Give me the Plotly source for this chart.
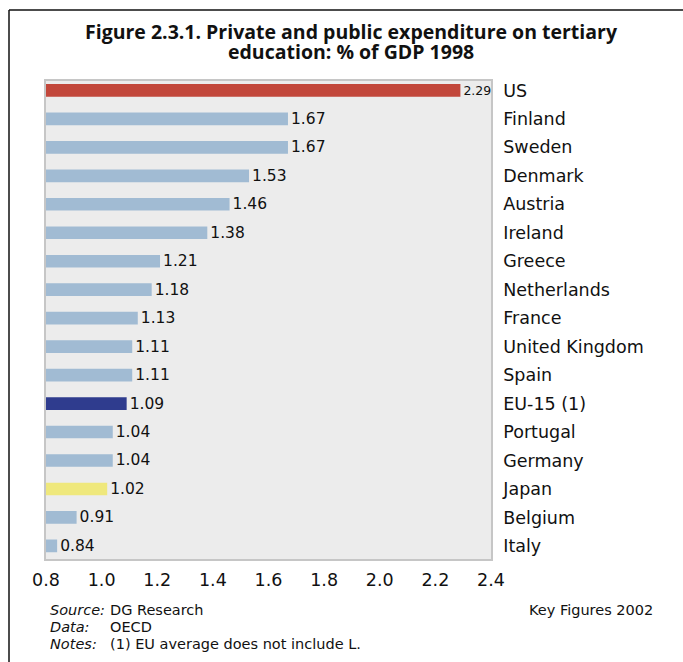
import plotly.graph_objects as go

countries = ["US", "Finland", "Sweden", "Denmark", "Austria", "Ireland", "Greece",
             "Netherlands", "France", "United Kingdom", "Spain", "EU-15 (1)",
             "Portugal", "Germany", "Japan", "Belgium", "Italy"]
values = [2.29, 1.67, 1.67, 1.53, 1.46, 1.38, 1.21, 1.18, 1.13, 1.11, 1.11, 1.09,
          1.04, 1.04, 1.02, 0.91, 0.84]
special_colors = {"US": "#c2473b", "EU-15 (1)": "#2f3c8e", "Japan": "#efe87c"}
base_color = "#a1bbd3"
x_ticks = [0.8, 1.0, 1.2, 1.4, 1.6, 1.8, 2.0, 2.2, 2.4]
title_lines = ["Figure 2.3.1. Private and public expenditure on tertiary",
               "education: % of GDP 1998"]

colors = [special_colors.get(c, base_color) for c in countries]
label_sizes = [12.5 if c == "US" else 15.5 for c in countries]

W, H = 683, 662
L, R, T, B = 46, 491, 81, 559
FONT = "'DejaVu Sans', sans-serif"
TFONT = "'Open Sans', sans-serif"

fig = go.Figure(go.Bar(
    x=values, y=countries, orientation="h",
    marker=dict(color=colors, line=dict(width=0)),
    width=0.445,
    text=[f"{v:.2f}" for v in values],
    textposition="outside",
    constraintext="none",
    textfont=dict(size=label_sizes, color="#111", family=FONT),
    cliponaxis=False,
))

def px(x):
    return (x - L) / (R - L)

def py(y):
    return (B - y) / (B - T)

annotations = [
    dict(x=px(48), y=py(610), text="<i>Source:</i>", xanchor="left"),
    dict(x=px(108), y=py(610), text="DG Research", xanchor="left"),
    dict(x=px(48), y=py(627), text="<i>Data:</i>", xanchor="left"),
    dict(x=px(108), y=py(627), text="OECD", xanchor="left"),
    dict(x=px(48), y=py(644), text="<i>Notes:</i>", xanchor="left"),
    dict(x=px(108), y=py(644), text="(1) EU average does not include L.", xanchor="left"),
    dict(x=px(655), y=py(610), text="Key Figures 2002", xanchor="right"),
]
for a in annotations:
    a.update(xref="paper", yref="paper", yanchor="middle", showarrow=False,
             font=dict(size=14.5, color="#111", family=FONT))

for line, yc in zip(title_lines, [32, 51.5]):
    annotations.append(dict(
        x=px(351), y=py(yc), xref="paper", yref="paper", showarrow=False,
        xanchor="center", yanchor="middle",
        text=f"<b>{line}</b>",
        font=dict(size=19.5, color="#111", family=TFONT),
    ))

shapes = [
    dict(type="line", xref="paper", yref="paper", x0=px(9), x1=px(683), y0=py(10), y1=py(10),
         line=dict(color="#111", width=1.5)),
    dict(type="line", xref="paper", yref="paper", x0=px(9), x1=px(9), y0=py(10), y1=py(662),
         line=dict(color="#111", width=1.5)),
]

fig.update_layout(
    width=W, height=H,
    margin=dict(l=L, r=W - R, t=T, b=H - B),
    paper_bgcolor="white",
    plot_bgcolor="#ececec",
    showlegend=False,
    font=dict(family=FONT, color="#111"),
    annotations=annotations,
    shapes=shapes,
    xaxis=dict(range=[0.8, 2.4], tickvals=x_ticks, ticktext=[f"{t:.1f}" for t in x_ticks],
               showgrid=False, zeroline=False, showline=True, mirror=True,
               linecolor="#c6c6c6", linewidth=1.5, ticks="", tickfont=dict(size=17.5),
               ticklabelstandoff=4),
    yaxis=dict(autorange=False, side="right", showgrid=False, zeroline=False,
               showline=True, mirror=True, linecolor="#c6c6c6", linewidth=1.5,
               ticks="", tickfont=dict(size=17.5), ticklabelstandoff=7,
               range=[16.46, -0.33]),
)

fig.write_html("out.html", config={"displayModeBar": False},
               post_script="document.body.style.margin='0px';document.body.style.overflow='hidden';")
